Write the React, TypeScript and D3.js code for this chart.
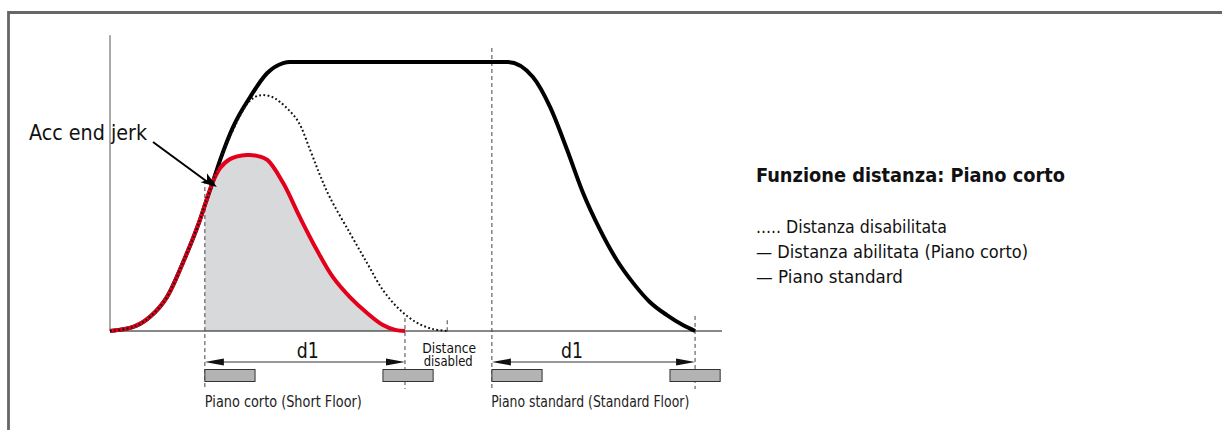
import React from "react";
import * as d3 from "d3";

// ---- Data (time units 0..100, speed units 0..100) ----
const blackCurve: [number, number][] = [
  [0, 0], [3.8, 1.5], [6.5, 5.2], [9.3, 12.6], [11.9, 25.3], [14.7, 41.3], [15.5, 46.8],
  [16.8, 55.4], [18.0, 63.6], [20.1, 75.8], [22.9, 87.0], [25.7, 95.9], [28.3, 99.6],
  [29.4, 100], [65.0, 100], [69.1, 94.4], [71.9, 83.3], [74.7, 67.3], [77.3, 51.3],
  [80.1, 37.5], [82.8, 26.4], [85.5, 17.8], [88.2, 10.8], [91.0, 5.9], [93.6, 2.2], [95.6, 0],
];
const redCurve: [number, number][] = [
  [0, 0], [3.8, 1.5], [6.5, 5.2], [9.3, 12.6], [11.9, 25.3], [14.7, 41.3], [15.5, 46.8],
  [16.8, 55.4], [18.0, 60.6], [19.6, 63.9], [22.4, 65.4], [24.0, 65.1], [25.7, 63.6],
  [28.3, 55.0], [31.0, 42.4], [33.8, 30.1], [36.4, 20.1], [39.2, 12.6], [42.0, 6.7],
  [44.6, 2.2], [46.6, 0.4], [48.2, 0],
];
const dottedCurve: [number, number][] = [
  [0, 0], [3.8, 1.5], [6.5, 5.2], [9.3, 12.6], [11.9, 25.3], [14.7, 41.3], [15.5, 46.8],
  [16.8, 55.4], [18.0, 63.6], [20.1, 74.7], [22.4, 84.4], [23.7, 87.0], [25.0, 87.7],
  [26.5, 87.0], [27.8, 85.1], [30.6, 78.4], [32.7, 67.3], [34.3, 58.0], [35.9, 49.8],
  [39.2, 36.4], [42.0, 25.3], [44.6, 15.2], [47.4, 7.8], [50.2, 3.0], [52.8, 0.7], [55.1, 0],
];
// guide lines: x position, top (speed units)
const guideX = [15.5, 48.2, 62.4, 95.6];
const guideTop = [56.1, 4.8, 105.2, 5.6];
const disabledEnd = 55.1;
// d1 spans
const spanStart = [15.5, 62.4];
const spanEnd = [48.2, 95.6];
const spanLabelX = [32.3, 75.5];
// floor markers (left edge, width) in time units
const markerLeft = [15.5, 44.6, 62.4, 91.5];
const markerWidth = 8.2;
const floorLabels = ["Piano corto (Short Floor)", "Piano standard (Standard Floor)"];
const floorLabelX = [15.5, 62.3];
const floorLabelLen = [157, 198];
const legendTitle = "Funzione distanza: Piano corto";
const legendItems = ["..... Distanza disabilitata", "— Distanza abilitata (Piano corto)", "— Piano standard"];
const legendLens = [191, 272, 147];
const accPoint: [number, number] = [17.3, 58.0];

const W = 1222, H = 430;
const x = d3.scaleLinear().domain([0, 100]).range([110, 722]);
const y = d3.scaleLinear().domain([0, 100]).range([331, 62]);

const FONT = "'Liberation Sans Narrow', 'DejaVu Sans Condensed', 'Liberation Sans', Arial, sans-serif";

function arrowHead(tipX: number, tipY: number, dirX: number, dirY: number, len: number, half: number, barb = 0) {
  const l = Math.hypot(dirX, dirY);
  const ux = dirX / l, uy = dirY / l;
  const px = -uy, py = ux;
  const bx = tipX - ux * len, by = tipY - uy * len;
  const nx = tipX - ux * (len - barb), ny = tipY - uy * (len - barb);
  return `M${tipX},${tipY}L${bx + px * half},${by + py * half}L${nx},${ny}L${bx - px * half},${by - py * half}Z`;
}

export default function App() {
  const smooth = d3.line<[number, number]>().x((d) => x(d[0])).y((d) => y(d[1])).curve(d3.curveCatmullRom.alpha(0.5));
  const mono = d3.line<[number, number]>().x((d) => x(d[0])).y((d) => y(d[1])).curve(d3.curveMonotoneX);
  const fillData = redCurve.filter((d) => d[0] >= spanStart[0]);
  const area = d3.area<[number, number]>().x((d) => x(d[0])).y0(y(0)).y1((d) => y(d[1])).curve(d3.curveCatmullRom.alpha(0.5));
  const arrowY = 362;
  const guideBottom = 389;

  const accTipX = x(accPoint[0]) + 1, accTipY = y(accPoint[1]) + 12;
  const accFromX = 153, accFromY = 142;

  return (
    <svg width={W} height={H} style={{ position: "absolute", left: 0, top: 0, background: "#fff" }}>
      {/* frame */}
      <path d={`M8.5,${H}L8.5,12.5L${W},12.5`} fill="none" stroke="#666" strokeWidth={2.8} />

      {/* shaded area */}
      <path d={area(fillData) || ""} fill="#d8d9db" />

      {/* axes */}
      <line x1={x(0)} x2={x(0)} y1={y(0)} y2={y(110)} stroke="#555" strokeWidth={1} />
      <line x1={x(0)} x2={x(100)} y1={y(0)} y2={y(0)} stroke="#111" strokeWidth={1} />

      {/* guide lines */}
      {guideX.map((g, i) => (
        <line key={i} x1={x(g)} x2={x(g)} y1={y(guideTop[i])} y2={guideBottom} stroke="#444" strokeWidth={1} strokeDasharray="4,3" />
      ))}
      <line x1={x(disabledEnd)} x2={x(disabledEnd)} y1={y(4)} y2={y(0) + 2} stroke="#444" strokeWidth={1} strokeDasharray="4,3" />

      {/* curves */}
      <path d={mono(blackCurve) || ""} fill="none" stroke="#000" strokeWidth={4} strokeLinejoin="round" />
      <path d={smooth(redCurve) || ""} fill="none" stroke="#e3001b" strokeWidth={4} strokeLinejoin="round" />
      <path d={smooth(dottedCurve) || ""} fill="none" stroke="#111" strokeWidth={2} strokeDasharray="1.8,2.4" />

      {/* d1 spans */}
      {spanStart.map((s, i) => {
        const x0 = x(s), x1 = x(spanEnd[i]);
        return (
          <g key={i}>
            <line x1={x0 + 10} x2={x1 - 10} y1={arrowY} y2={arrowY} stroke="#333" strokeWidth={1.2} />
            <path d={arrowHead(x0, arrowY, -1, 0, 19, 3.5)} fill="#111" />
            <path d={arrowHead(x1, arrowY, 1, 0, 19, 3.5)} fill="#111" />
            <text x={x(spanLabelX[i])} y={358} textAnchor="middle" fontFamily={FONT} fontSize={22} textLength={22} lengthAdjust="spacingAndGlyphs" fill="#111">d1</text>
          </g>
        );
      })}

      {/* floor markers */}
      {markerLeft.map((m, i) => (
        <rect key={i} x={x(m)} y={369.5} width={x(m + markerWidth) - x(m)} height={12} fill="#b3b3b3" stroke="#333" strokeWidth={1} />
      ))}

      {/* distance disabled label */}
      <text x={x(disabledEnd) + 2} y={353} textAnchor="middle" fontFamily={FONT} fontSize={14.5} textLength={54} lengthAdjust="spacingAndGlyphs" fill="#111">Distance</text>
      <text x={x(disabledEnd) + 1} y={366} textAnchor="middle" fontFamily={FONT} fontSize={14.5} textLength={49} lengthAdjust="spacingAndGlyphs" fill="#111">disabled</text>

      {/* floor labels */}
      {floorLabels.map((t, i) => (
        <text key={i} x={x(floorLabelX[i])} y={407} fontFamily={FONT} fontSize={15.5} textLength={floorLabelLen[i]} lengthAdjust="spacingAndGlyphs" fill="#222">{t}</text>
      ))}

      {/* Acc end jerk annotation */}
      <text x={29} y={140} fontFamily={FONT} fontSize={22} textLength={118} lengthAdjust="spacingAndGlyphs" fill="#111">Acc end jerk</text>
      <line x1={accFromX} y1={accFromY} x2={accTipX - 8} y2={accTipY - 4} stroke="#000" strokeWidth={2} />
      <path d={arrowHead(accTipX, accTipY, accTipX - accFromX, accTipY - accFromY, 16, 5.5, 4)} fill="#000" />

      {/* legend */}
      <text x={756} y={182} fontFamily={FONT} fontWeight="bold" fontSize={19} textLength={309} lengthAdjust="spacingAndGlyphs" fill="#111">{legendTitle}</text>
      {legendItems.map((t, i) => (
        <text key={i} x={756} y={233 + i * 25} fontFamily={FONT} fontSize={18} textLength={legendLens[i]} lengthAdjust="spacingAndGlyphs" fill="#111">{t}</text>
      ))}
    </svg>
  );
}
